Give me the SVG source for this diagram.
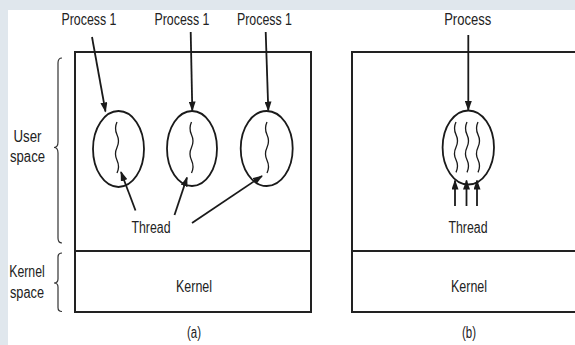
<svg xmlns="http://www.w3.org/2000/svg" width="575" height="345" viewBox="0 0 575 345">
<style>
  text { font-family: "Liberation Sans", Arial, sans-serif; font-size: 16px; fill: #222; text-anchor: middle; }
  .box { fill: none; stroke: #222; stroke-width: 2; }
  .proc { fill: none; stroke: #1a1a1a; stroke-width: 1.8; }
  .thr { fill: none; stroke: #1a1a1a; stroke-width: 1.3; }
  .arr { fill: none; stroke: #1a1a1a; stroke-width: 1.8; marker-end: url(#ah); }
  .brace { fill: none; stroke: #333; stroke-width: 1.2; }
</style>
<defs>
  <marker id="ah" markerUnits="userSpaceOnUse" markerWidth="10" markerHeight="7" refX="9" refY="3.5" orient="auto">
    <path d="M0,0 L10,3.5 L0,7 z" fill="#1a1a1a"/>
  </marker>
</defs>
<rect x="0" y="0" width="575" height="345" fill="#e0e7ed"/>
<rect x="8" y="10" width="567" height="335" fill="#ffffff"/>

<g id="panel-a">
  <rect class="box" x="75" y="52" width="236" height="260"/>
  <line class="box" x1="75" y1="251" x2="311" y2="251"/>
  <text x="194" y="291.5" textLength="36" lengthAdjust="spacingAndGlyphs">Kernel</text>
  <text x="194" y="338" textLength="14" lengthAdjust="spacingAndGlyphs">(a)</text>
</g>
<g id="panel-b">
  <rect class="box" x="352" y="52" width="240" height="260"/>
  <line class="box" x1="352" y1="251" x2="592" y2="251"/>
  <text x="469" y="291.5" textLength="36" lengthAdjust="spacingAndGlyphs">Kernel</text>
  <text x="469" y="338" textLength="14" lengthAdjust="spacingAndGlyphs">(b)</text>
</g>

<g id="user-space">
  <path class="brace" d="M62,58 Q58,58 58,63 L58,142 Q58,147.5 54,147.5 Q58,147.5 58,153 L58,238 Q58,243 62,243"/>
  <text x="27.5" y="141.5" textLength="28" lengthAdjust="spacingAndGlyphs">User</text>
  <text x="27.5" y="162" textLength="35" lengthAdjust="spacingAndGlyphs">space</text>
</g>
<g id="kernel-space">
  <path class="brace" d="M62,253 Q58,253 58,257 L58,279 Q58,283 54,283 Q58,283 58,287 L58,307.5 Q58,311.5 62,311.5"/>
  <text x="27" y="277" textLength="35.5" lengthAdjust="spacingAndGlyphs">Kernel</text>
  <text x="27" y="297.5" textLength="34" lengthAdjust="spacingAndGlyphs">space</text>
</g>

<g id="process-a1">
  <ellipse class="proc" cx="118.5" cy="149" rx="25.5" ry="38"/>
  <path class="thr" d="M117,122 q-3,6.4 0,12.75 t0,12.75 t0,12.75 t0,12.75"/>
  <text x="89" y="25" textLength="55" lengthAdjust="spacingAndGlyphs">Process 1</text>
</g>
<g id="process-a2">
  <ellipse class="proc" cx="192" cy="148.5" rx="25" ry="37.5"/>
  <path class="thr" d="M191.5,122 q-3,6.4 0,12.75 t0,12.75 t0,12.75 t0,12.75"/>
  <text x="182" y="25" textLength="55" lengthAdjust="spacingAndGlyphs">Process 1</text>
</g>
<g id="process-a3">
  <ellipse class="proc" cx="266.7" cy="148.5" rx="26" ry="37.5"/>
  <path class="thr" d="M267,122 q-3,6.4 0,12.75 t0,12.75 t0,12.75 t0,12.75"/>
  <text x="264.5" y="25" textLength="55" lengthAdjust="spacingAndGlyphs">Process 1</text>
</g>
<g id="process-b">
  <ellipse class="proc" cx="468.3" cy="147.5" rx="25.7" ry="37"/>
  <path class="thr" d="M456,122 q-3,6.3 0,12.6 t0,12.6 t0,12.6 t0,12.6"/>
  <path class="thr" d="M467,122 q-3,6.3 0,12.6 t0,12.6 t0,12.6 t0,12.6"/>
  <path class="thr" d="M478,122 q-3,6.3 0,12.6 t0,12.6 t0,12.6 t0,12.6"/>
  <text x="467.7" y="25" textLength="47" lengthAdjust="spacingAndGlyphs">Process</text>
</g>
<g id="thread-label-a">
  <text x="151" y="232.5" textLength="39" lengthAdjust="spacingAndGlyphs">Thread</text>
</g>
<g id="thread-label-b">
  <text x="468" y="232.5" textLength="39" lengthAdjust="spacingAndGlyphs">Thread</text>
</g>

<g id="connectors">
  <line class="arr" x1="92" y1="37" x2="105.5" y2="111.5"/>
  <line class="arr" x1="190.7" y1="32" x2="192.3" y2="110.5"/>
  <line class="arr" x1="265.7" y1="32" x2="268.3" y2="110.5"/>
  <line class="arr" x1="468.3" y1="35" x2="468.3" y2="110"/>
  <line class="arr" x1="135.5" y1="210.5" x2="121" y2="172"/>
  <line class="arr" x1="174.5" y1="215" x2="187" y2="177.5"/>
  <line class="arr" x1="192" y1="223" x2="262" y2="176"/>
  <line class="arr" x1="455" y1="206" x2="455" y2="180.5"/>
  <line class="arr" x1="466.5" y1="206" x2="466.5" y2="180.5"/>
  <line class="arr" x1="477" y1="206" x2="477" y2="180.5"/>
</g>
</svg>
